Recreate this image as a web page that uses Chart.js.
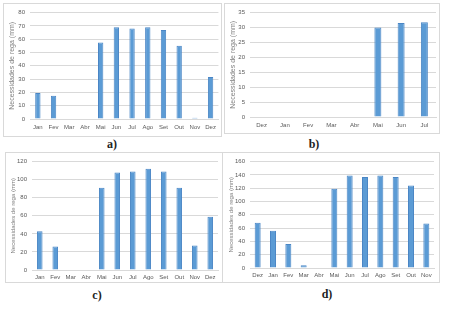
<!DOCTYPE html>
<html>
<head>
<meta charset="utf-8">
<script src="https://cdn.jsdelivr.net/npm/chart.js@4"></script>
<style>
  body { margin: 0; background: #fff; width: 450px; height: 310px; position: relative; overflow: hidden; }
  .painel { position: absolute; border: 1px solid #d9d9d9; box-sizing: border-box; }
  .painel canvas { position: absolute; left: 0; top: 0; }
  .rotulo { position: absolute; font-family: "Liberation Serif", serif; font-size: 12px; font-weight: bold; color: #222; transform: translateX(-50%); }
</style>
</head>
<body>
<div class="painel" style="left:3px;top:3px;width:219px;height:134px"><canvas id="graficoA"></canvas></div>
<div class="painel" style="left:224px;top:3px;width:216px;height:131px"><canvas id="graficoB"></canvas></div>
<div class="painel" style="left:5px;top:152px;width:218px;height:131px"><canvas id="graficoC"></canvas></div>
<div class="painel" style="left:222px;top:152px;width:218px;height:131px"><canvas id="graficoD"></canvas></div>
<div class="rotulo" style="left:112px;top:137px">a)</div>
<div class="rotulo" style="left:314px;top:137px">b)</div>
<div class="rotulo" style="left:97px;top:288px">c)</div>
<div class="rotulo" style="left:327px;top:287px">d)</div>
<script>
const mesesA = ['Jan', 'Fev', 'Mar', 'Abr', 'Mai', 'Jun', 'Jul', 'Ago', 'Set', 'Out', 'Nov', 'Dez'];
const regaA = [19.5, 17.5, 0, 0, 57.5, 69, 68, 69, 67, 55, 1, 31.5];

const mesesB = ['Dez', 'Jan', 'Fev', 'Mar', 'Abr', 'Mai', 'Jun', 'Jul'];
const regaB = [0, 0, 0, 0, 0, 30, 31.5, 31.8];

const mesesC = ['Jan', 'Fev', 'Mar', 'Abr', 'Mai', 'Jun', 'Jul', 'Ago', 'Set', 'Out', 'Nov', 'Dez'];
const regaC = [43, 26, 0, 0, 91, 108, 109, 112, 109, 91, 27, 59];

const mesesD = ['Dez', 'Jan', 'Fev', 'Mar', 'Abr', 'Mai', 'Jun', 'Jul', 'Ago', 'Set', 'Out', 'Nov'];
const regaD = [68, 56, 36, 4, 0, 119, 139, 137, 139, 137, 124, 67];

const tituloY = 'Necessidades de rega (mm)';

function criarGrafico(canvasId, labels, valores, cfg) {
  const canvas = document.getElementById(canvasId);
  canvas.width = cfg.largura;
  canvas.height = cfg.altura;
  new Chart(canvas.getContext('2d'), {
    type: 'bar',
    data: {
      labels: labels,
      datasets: [{
        data: valores,
        backgroundColor: '#5b9bd5',
        borderColor: '#4a86c5',
        borderWidth: 1,
        barPercentage: cfg.barra,
        categoryPercentage: 1
      }]
    },
    options: {
      responsive: false,
      animation: false,
      devicePixelRatio: 1,
      layout: { padding: cfg.padding },
      plugins: { legend: { display: false }, tooltip: { enabled: false } },
      scales: {
        x: {
          grid: { display: false, drawTicks: false },
          border: { display: true, color: '#d9d9d9' },
          ticks: { color: '#595959', font: { family: 'Liberation Sans', size: 6 }, padding: cfg.padX, maxRotation: 0, autoSkip: false },
          afterFit: s => { s.height = cfg.alturaX; }
        },
        y: {
          min: 0,
          max: cfg.max,
          ticks: { stepSize: cfg.passo, color: '#595959', font: { family: 'Liberation Sans', size: 6 }, padding: 5 },
          grid: { color: '#d9d9d9', drawTicks: false },
          border: { display: false },
          title: { display: true, text: tituloY, color: '#7f7f7f', font: { family: 'Liberation Sans', size: cfg.fonteTitulo }, padding: 0 },
          afterFit: s => { s.width = cfg.larguraY; }
        }
      }
    }
  });
}

criarGrafico('graficoA', mesesA, regaA, {
  largura: 217, altura: 132, max: 80, passo: 10, barra: 0.34, fonteTitulo: 7,
  larguraY: 22, alturaX: 14, padX: 5,
  padding: { left: 4, right: 2, top: 6, bottom: 3 }
});

criarGrafico('graficoB', mesesB, regaB, {
  largura: 214, altura: 129, max: 35, passo: 5, barra: 0.3, fonteTitulo: 7,
  larguraY: 21, alturaX: 14, padX: 5,
  padding: { left: 4, right: 3, top: 6, bottom: 2 }
});

criarGrafico('graficoC', mesesC, regaC, {
  largura: 216, altura: 129, max: 120, passo: 20, barra: 0.36, fonteTitulo: 6,
  larguraY: 22, alturaX: 11, padX: 4,
  padding: { left: 4, right: 4, top: 5, bottom: 1 }
});

criarGrafico('graficoD', mesesD, regaD, {
  largura: 216, altura: 129, max: 160, passo: 20, barra: 0.39, fonteTitulo: 6,
  larguraY: 22, alturaX: 13, padX: 4,
  padding: { left: 5, right: 5, top: 5, bottom: 1 }
});
</script>
</body>
</html>
